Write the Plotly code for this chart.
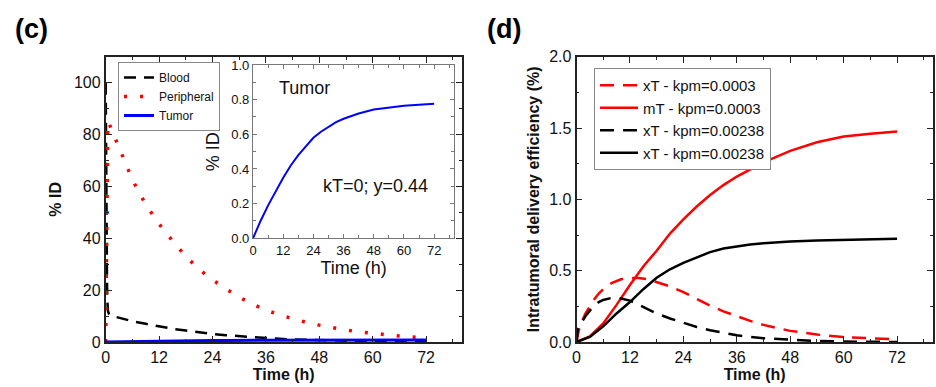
import plotly.graph_objects as go

# ---------------- Panel (c) data ----------------
t_blood = [0, 0.1, 0.2, 0.3, 0.4, 0.5, 0.75, 1, 2, 3, 4, 6, 9, 12, 15, 18, 21, 24, 27, 30, 33, 36, 39, 42, 48, 54, 60, 66, 72]
blood = [100, 60, 35, 22, 15, 12, 10.8, 10.3, 9.8, 9.3, 8.8, 8.0, 7.0, 6.0, 5.1, 4.4, 3.7, 3.1, 2.6, 2.2, 1.8, 1.5, 1.25, 1.0, 0.7, 0.45, 0.3, 0.2, 0.12]

t_periph = [0, 0.1, 0.2, 0.3, 0.45, 0.6, 1, 2, 3, 6, 9, 12, 15, 18, 21, 24, 27, 30, 33, 36, 39, 42, 45, 48, 51, 54, 57, 60, 63, 66, 69, 72]
periph = [0, 30, 55, 72, 82, 85, 83.5, 79, 75, 62.5, 53, 45.5, 39, 33, 28, 24, 20.5, 17.3, 14.6, 12.3, 10.5, 9.0, 7.6, 6.5, 5.5, 4.6, 3.9, 3.3, 2.8, 2.3, 1.9, 1.6]

t_tumor = [0, 1, 3, 6, 9, 12, 15, 18, 21, 24, 27, 30, 33, 36, 42, 48, 54, 60, 66, 72]
tumor = [0, 0.035, 0.10, 0.19, 0.27, 0.35, 0.42, 0.48, 0.53, 0.58, 0.615, 0.645, 0.67, 0.69, 0.72, 0.743, 0.756, 0.765, 0.771, 0.776]

# ---------------- Panel (d) data ----------------
t_solid = [0, 3, 6, 9, 12, 15, 18, 21, 24, 27, 30, 33, 36, 39, 42, 45, 48, 54, 60, 66, 72]
mT_0003 = [0, 0.04, 0.13, 0.26, 0.40, 0.53, 0.64, 0.76, 0.86, 0.95, 1.03, 1.10, 1.16, 1.21, 1.26, 1.30, 1.34, 1.40, 1.44, 1.46, 1.475]
xT_00238_solid = [0, 0.035, 0.11, 0.20, 0.28, 0.37, 0.45, 0.51, 0.555, 0.595, 0.63, 0.655, 0.67, 0.683, 0.693, 0.70, 0.705, 0.712, 0.717, 0.72, 0.724]

t_dash_red = [0, 0.5, 1, 2, 3, 4, 5, 6, 8, 10, 12, 14, 16, 18, 21, 24, 27, 30, 33, 36, 39, 42, 45, 48, 54, 60, 66, 72]
xT_0003 = [0, 0.08, 0.13, 0.20, 0.25, 0.30, 0.34, 0.37, 0.415, 0.44, 0.45, 0.448, 0.44, 0.42, 0.39, 0.35, 0.30, 0.255, 0.215, 0.18, 0.148, 0.12, 0.097, 0.078, 0.052, 0.035, 0.026, 0.02]

t_dash_black = [0, 0.3, 1, 2, 3, 4, 5, 6, 8, 10, 12, 14, 16, 18, 21, 24, 27, 30, 33, 36, 42, 48, 54, 60, 66, 72]
xT_00238_dash = [0, 0.09, 0.13, 0.18, 0.22, 0.255, 0.28, 0.295, 0.31, 0.305, 0.29, 0.26, 0.23, 0.20, 0.165, 0.135, 0.105, 0.082, 0.062, 0.047, 0.026, 0.014, 0.007, 0.003, 0.001, 0.0]

x_ticks = [0, 12, 24, 36, 48, 60, 72]

FONT = "Liberation Sans, Arial, sans-serif"
FRAME = "#222222"

fig = go.Figure()

# Panel (c) main
fig.add_trace(go.Scatter(x=t_blood, y=blood, mode="lines", name="Blood",
                         line=dict(color="black", width=2.5, dash="12px,8px"),
                         xaxis="x", yaxis="y", legend="legend"))
fig.add_trace(go.Scatter(x=t_periph, y=periph, mode="lines", name="Peripheral",
                         line=dict(color="red", width=3.5, dash="3px,13px"),
                         xaxis="x", yaxis="y", legend="legend"))
fig.add_trace(go.Scatter(x=t_tumor, y=tumor, mode="lines", name="Tumor",
                         line=dict(color="blue", width=3),
                         xaxis="x", yaxis="y", legend="legend"))
# Inset
fig.add_trace(go.Scatter(x=t_tumor, y=tumor, mode="lines", showlegend=False,
                         line=dict(color="blue", width=2),
                         xaxis="x2", yaxis="y2"))

# Panel (d)
fig.add_trace(go.Scatter(x=t_dash_red, y=xT_0003, mode="lines", name="xT - kpm=0.0003",
                         line=dict(color="red", width=2.5, dash="14px,9px"),
                         xaxis="x3", yaxis="y3", legend="legend2"))
fig.add_trace(go.Scatter(x=t_solid, y=mT_0003, mode="lines", name="mT - kpm=0.0003",
                         line=dict(color="red", width=2.5),
                         xaxis="x3", yaxis="y3", legend="legend2"))
fig.add_trace(go.Scatter(x=t_dash_black, y=xT_00238_dash, mode="lines", name="xT - kpm=0.00238",
                         line=dict(color="black", width=2.5, dash="14px,9px"),
                         xaxis="x3", yaxis="y3", legend="legend2"))
fig.add_trace(go.Scatter(x=t_solid, y=xT_00238_solid, mode="lines", name="xT - kpm=0.00238",
                         line=dict(color="black", width=2.5),
                         xaxis="x3", yaxis="y3", legend="legend2"))

W, H = 936, 387

def px_x(p):
    return p / W

def px_y(p):
    return 1 - p / H

def axis_common(size, minor_dtick, ticklen=6, linecolor=FRAME, lw=1.8):
    return dict(
        automargin=False,
        showline=True, linecolor=linecolor, linewidth=lw, mirror="ticks",
        ticks="inside", ticklen=ticklen, tickwidth=1.4, tickcolor=linecolor,
        minor=dict(ticks="inside", ticklen=max(3, ticklen // 2), tickwidth=1.2,
                   tickcolor=linecolor, dtick=minor_dtick),
        showgrid=False, zeroline=False,
        tickfont=dict(family=FONT, size=size, color="#111111"),
    )

y_dom = [px_y(342), px_y(56.7)]

fig.update_layout(
    width=W, height=H, autosize=False,
    margin=dict(l=0, r=0, t=0, b=0, autoexpand=False),
    paper_bgcolor="white", plot_bgcolor="white",
    font=dict(family=FONT, color="#111111"),
    xaxis=dict(domain=[px_x(105.7), px_x(461.7)], range=[0, 80], anchor="y",
               tickmode="array", tickvals=x_ticks,
               title=dict(text="<b>Time (h)</b>", font=dict(size=16, family=FONT), standoff=1),
               **axis_common(16, 6)),
    yaxis=dict(domain=y_dom, range=[0, 110], anchor="x",
               tickmode="linear", tick0=0, dtick=20,
               title=dict(text="<b>% ID</b>", font=dict(size=16, family=FONT), standoff=8),
               **axis_common(16, 10)),
    xaxis2=dict(domain=[px_x(253), px_x(454.3)], range=[0, 80], anchor="y2",
                tickmode="array", tickvals=x_ticks,
                title=dict(text="Time (h)", font=dict(size=18, family=FONT), standoff=2),
                **axis_common(13, 6, ticklen=4, linecolor="#777777", lw=1.2)),
    yaxis2=dict(domain=[px_y(238.3), px_y(65)], range=[0, 1], anchor="x2",
                tickmode="linear", tick0=0, dtick=0.2, tickformat=".1f",
                title=dict(text="% ID", font=dict(size=18, family=FONT), standoff=6),
                **axis_common(13, 0.1, ticklen=4, linecolor="#777777", lw=1.2)),
    xaxis3=dict(domain=[px_x(576.5), px_x(932.7)], range=[0, 80], anchor="y3",
                tickmode="array", tickvals=x_ticks,
                title=dict(text="<b>Time (h)</b>", font=dict(size=16, family=FONT), standoff=1),
                **axis_common(16, 6)),
    yaxis3=dict(domain=y_dom, range=[0, 2], anchor="x3",
                tickmode="linear", tick0=0, dtick=0.5, tickformat=".1f",
                title=dict(text="<b>Intratumoral delivery efficiency (%)</b>",
                           font=dict(size=16, family=FONT), standoff=6),
                **axis_common(16, 0.25)),
    legend=dict(x=px_x(118), y=px_y(62), xanchor="left", yanchor="top",
                bgcolor="white", bordercolor="#888888", borderwidth=1,
                font=dict(family=FONT, size=12, color="#111111"),
                itemwidth=30, tracegroupgap=0),
    legend2=dict(x=px_x(594), y=px_y(68), xanchor="left", yanchor="top",
                 bgcolor="white", bordercolor="#888888", borderwidth=1,
                 font=dict(family=FONT, size=15, color="#111111"),
                 itemwidth=38, tracegroupgap=0),
    annotations=[
        dict(text="<b>(c)</b>", x=px_x(31), y=px_y(29), xref="paper", yref="paper",
             xanchor="center", yanchor="middle",
             showarrow=False, font=dict(family=FONT, size=27, color="black")),
        dict(text="<b>(d)</b>", x=px_x(504), y=px_y(29), xref="paper", yref="paper",
             xanchor="center", yanchor="middle",
             showarrow=False, font=dict(family=FONT, size=27, color="black")),
        dict(text="Tumor", x=20.4, y=0.87, xref="x2", yref="y2", showarrow=False,
             xanchor="center", yanchor="middle",
             font=dict(family=FONT, size=18, color="#111111")),
        dict(text="kT=0; y=0.44", x=48.6, y=0.30, xref="x2", yref="y2", showarrow=False,
             xanchor="center", yanchor="middle",
             font=dict(family=FONT, size=18, color="#111111")),
    ],
)

fig.write_html("out.html",
               config={"displayModeBar": False},
               post_script="document.body.style.margin='0';document.body.style.overflow='hidden';")
